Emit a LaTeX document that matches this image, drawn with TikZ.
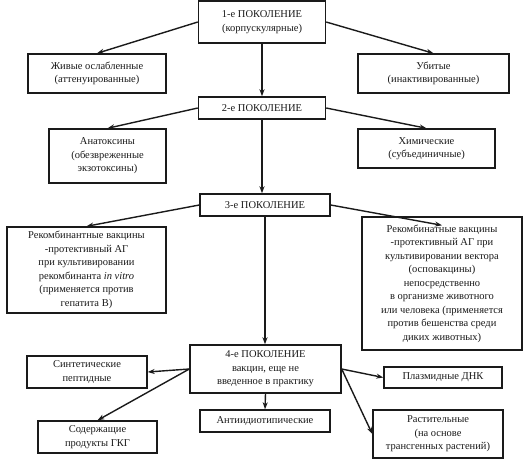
\documentclass[tikz,border=0pt]{standalone}
\usepackage{fontspec}
\setmainfont{Liberation Serif}
\usepackage{tikz}
\usetikzlibrary{positioning,arrows.meta,calc}
\definecolor{ink}{HTML}{1A1A1A}
\tikzset{
  >=stealth,
  every node/.style={font=\fontsize{10.5}{13.5}\selectfont},
  % --- nodes
  gen/.style   = {draw=ink, line width=1.4pt, fill=white, align=center,
                  inner sep=0pt, text=ink},
  kind/.style  = {gen},
  % --- edges
  e/.style     = {-{Stealth[length=7pt,width=5pt]}, line width=1.4pt, draw=ink},
}
\begin{document}
\begin{tikzpicture}[x=1pt,y=-1pt]
  \useasboundingbox (0,0) rectangle (530,471);
  % --- generations
  \node[gen, minimum width=127pt, minimum height=42pt] (g1) at (262,22)
    {1-е ПОКОЛЕНИЕ\\(корпускулярные)};
  \node[gen, minimum width=127pt, minimum height=22pt] (g2) at (262,108)
    {2-е ПОКОЛЕНИЕ};
  \node[gen, minimum width=130pt, minimum height=22pt] (g3) at (265,205)
    {3-е ПОКОЛЕНИЕ};
  \node[gen, minimum width=151pt, minimum height=48pt] (g4) at (265.5,369)
    {4-е ПОКОЛЕНИЕ\\вакцин, еще не\\введенное в практику};
  % --- 1st
  \node[kind, minimum width=138pt, minimum height=39pt] (live) at (97,73.5)
    {Живые ослабленные\\(аттенуированные)};
  \node[kind, minimum width=151pt, minimum height=39pt] (killed) at (433.5,73.5)
    {Убитые\\(инактивированные)};
  % --- 2nd
  \node[kind, minimum width=117pt, minimum height=54pt] (anatox) at (107.5,156)
    {Анатоксины\\(обезвреженные\\экзотоксины)};
  \node[kind, minimum width=137pt, minimum height=39pt] (chem) at (426.5,148.5)
    {Химические\\(субъединичные)};
  % --- 3rd
  \node[kind, minimum width=159pt, minimum height=86pt] (rec1) at (86.5,270)
    {Рекомбинантные вакцины\\-протективный АГ\\при культивировании\\
     рекомбинанта \textit{in vitro}\\(применяется против\\гепатита В)};
  \node[kind, minimum width=160pt, minimum height=133pt] (rec2) at (442,283.5)
    {Рекомбинатные вакцины\\-протективный АГ при\\культивировании вектора\\
     (осповакцины)\\непосредственно\\в организме животного\\
     или человека (применяется\\против бешенства среди\\диких животных)};
  % --- 4th
  \node[kind, minimum width=120pt, minimum height=32pt] (synth) at (87,372)
    {Синтетические\\пептидные};
  \node[kind, minimum width=119pt, minimum height=32pt] (gkg) at (97.5,437)
    {Содержащие\\продукты ГКГ};
  \node[kind, minimum width=130pt, minimum height=22pt] (anti) at (265,421)
    {Антиидиотипические};
  \node[kind, minimum width=118pt, minimum height=21pt] (plasm) at (443,377.5)
    {Плазмидные ДНК};
  \node[kind, minimum width=130pt, minimum height=48pt] (plant) at (438,434)
    {Растительные\\(на основе\\трансгенных растений)};

  \coordinate (rec2tip) at ($(rec2.north)+(0,9)$);

  \draw[e] (g1.west) -- (live.north);
  \draw[e] (g1.east) -- (killed.north);
  \draw[e] (g1.south) -- (g2.north);
  \draw[e] (g2.west) -- (anatox.north);
  \draw[e] (g2.east) -- (chem.north);
  \draw[e] (g2.south) -- (g2.south |- g3.north);
  \draw[e] (g3.west) -- (rec1.north);
  \draw[e] (g3.east) -- (rec2tip);
  \draw[e] (g3.south) -- (g3.south |- g4.north);
  \draw[e] (g4.west) -- (synth.east);
  \draw[e] (g4.west) -- (gkg.north);
  \draw[e] (g4.south) -- (anti.north);
  \draw[e] (g4.east) -- (plasm.west);
  \draw[e] (g4.east) -- (plant.west);
\end{tikzpicture}
\end{document}
